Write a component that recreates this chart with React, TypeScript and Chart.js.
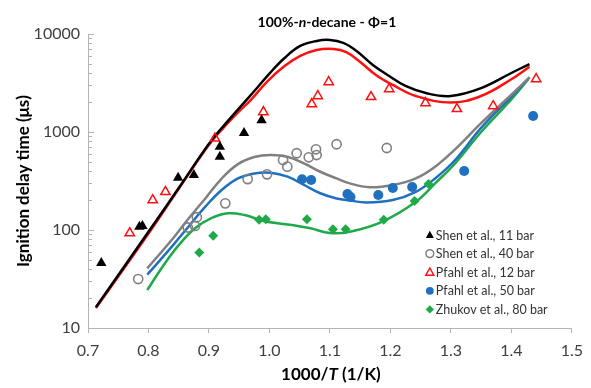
import React, { useEffect, useRef } from 'react';
import { Chart, registerables } from 'chart.js';

Chart.register(...registerables);

const FONT = 'Lato, "Noto Sans", sans-serif';

// ---- experimental data (1000/T, ignition delay in µs) ----
const shen11X = [0.722, 0.785, 0.790, 0.849, 0.875, 0.918, 0.918, 0.958, 0.987];
const shen11Y = [46, 108, 110, 342, 364, 560, 707, 977, 1320];

const shen40X = [0.783, 0.865, 0.877, 0.880, 0.927, 0.964, 0.996, 1.0225, 1.0295, 1.045, 1.065, 1.077, 1.078, 1.111, 1.194];
const shen40Y = [31.6, 106, 110, 135, 187, 331, 370, 518, 443, 607, 552, 666, 582, 750, 687];

const pfahl12X = [0.769, 0.807, 0.828, 0.910, 0.990, 1.070, 1.080, 1.098, 1.168, 1.198, 1.258, 1.310, 1.370, 1.441];
const pfahl12Y = [93, 202, 245, 860, 1600, 1930, 2330, 3240, 2280, 2750, 1980, 1720, 1840, 3480];

const pfahl50X = [1.054, 1.069, 1.129, 1.134, 1.180, 1.204, 1.236, 1.322, 1.436];
const pfahl50Y = [329, 324, 233, 217, 228, 268, 275, 400, 1456];

const zhukovX = [0.884, 0.907, 0.983, 0.994, 1.062, 1.105, 1.126, 1.189, 1.240, 1.263];
const zhukovY = [59, 87.5, 127, 129, 129, 102, 102, 127, 198, 294];

// ---- model curves ----
const model11X = [0.713, 0.8, 0.85, 0.9, 0.925, 0.95, 0.975, 1.0, 1.025, 1.051, 1.078, 1.1, 1.122, 1.144, 1.171, 1.198, 1.225, 1.26, 1.3, 1.35, 1.4, 1.43];
const model11Y = [16.3, 96, 268, 760, 1170, 1750, 2620, 3950, 5690, 7550, 8490, 8690, 8100, 6710, 4830, 3730, 2950, 2480, 2330, 2800, 4000, 4940];

const model12X = [0.713, 0.8, 0.85, 0.9, 0.925, 0.95, 0.969, 0.997, 1.025, 1.051, 1.078, 1.106, 1.127, 1.148, 1.176, 1.204, 1.242, 1.3, 1.35, 1.4, 1.43];
const model12Y = [16.0, 92, 263, 740, 1120, 1630, 2120, 3310, 4710, 5970, 6870, 7040, 6550, 5300, 3820, 3020, 2330, 2000, 2330, 3450, 4640];

const model40X = [0.798, 0.839, 0.866, 0.894, 0.921, 0.948, 0.975, 1.002, 1.0295, 1.057, 1.084, 1.111, 1.133, 1.165, 1.204, 1.242, 1.274, 1.307, 1.35, 1.4, 1.43];
const model40Y = [40.6, 80, 130, 210, 335, 470, 555, 582, 560, 479, 393, 336, 299, 273, 288, 337, 443, 666, 1230, 2400, 3610];

const model50X = [0.798, 0.839, 0.866, 0.894, 0.921, 0.948, 0.975, 1.002, 1.03, 1.057, 1.084, 1.111, 1.133, 1.16, 1.204, 1.242, 1.274, 1.307, 1.35, 1.4, 1.43];
const model50Y = [35, 68, 108, 173, 256, 336, 378, 384, 350, 288, 237, 210, 200, 191, 202, 245, 336, 518, 1100, 2300, 3600];

const model80X = [0.798, 0.823, 0.85, 0.877, 0.904, 0.932, 0.959, 0.986, 1.013, 1.04, 1.068, 1.1, 1.133, 1.187, 1.242, 1.274, 1.307, 1.35, 1.4, 1.428];
const model80Y = [24.4, 42, 70, 104, 132, 148, 142, 126, 117, 112, 104, 93, 96, 122, 194, 299, 479, 1000, 2150, 3450];

const xTicks = [0.7, 0.8, 0.9, 1.0, 1.1, 1.2, 1.3, 1.4, 1.5];
const yMajor = [10, 100, 1000, 10000];

const legendLabels = [
  'Shen et al., 11 bar',
  'Shen et al., 40 bar',
  'Pfahl et al., 12 bar',
  'Pfahl et al., 50 bar',
  'Zhukov et al., 80 bar',
];

const BLACK = '#000000';
const GRAY = '#808080';
const RED = '#ff1010';
const BLUE = '#1f70c0';
const GREEN = '#1faa4a';
const AXIS = '#b4b4b4';

const pts = (xs: number[], ys: number[]) => xs.map((x, i) => ({ x, y: ys[i] }));

function drawMarker(ctx: CanvasRenderingContext2D, kind: number, x: number, y: number, s: number) {
  ctx.save();
  ctx.beginPath();
  if (kind === 0 || kind === 2) {
    ctx.moveTo(x, y - s);
    ctx.lineTo(x + s * 0.95, y + s * 0.7);
    ctx.lineTo(x - s * 0.95, y + s * 0.7);
    ctx.closePath();
  } else if (kind === 1 || kind === 3) {
    ctx.arc(x, y, s * 0.85, 0, Math.PI * 2);
  } else {
    ctx.moveTo(x, y - s);
    ctx.lineTo(x + s, y);
    ctx.lineTo(x, y + s);
    ctx.lineTo(x - s, y);
    ctx.closePath();
  }
  if (kind === 0) { ctx.fillStyle = BLACK; ctx.fill(); }
  if (kind === 1) { ctx.strokeStyle = GRAY; ctx.lineWidth = 1.5; ctx.stroke(); }
  if (kind === 2) { ctx.strokeStyle = RED; ctx.lineWidth = 1.5; ctx.stroke(); }
  if (kind === 3) { ctx.fillStyle = BLUE; ctx.fill(); }
  if (kind === 4) { ctx.fillStyle = GREEN; ctx.fill(); }
  ctx.restore();
}

function drawMixed(ctx: CanvasRenderingContext2D, parts: [string, boolean][], cx: number, cy: number, size: number) {
  const fonts = parts.map(([, it]) => `${it ? 'italic ' : ''}bold ${size}px ${FONT}`);
  let total = 0;
  const widths = parts.map(([t], i) => { ctx.font = fonts[i]; const w = ctx.measureText(t).width; total += w; return w; });
  let x = cx - total / 2;
  ctx.textBaseline = 'middle';
  ctx.textAlign = 'left';
  ctx.fillStyle = '#000';
  parts.forEach(([t], i) => { ctx.font = fonts[i]; ctx.fillText(t, x, cy); x += widths[i]; });
}

const decorPlugin = {
  id: 'decor',
  afterDraw(chart: any) {
    const ctx: CanvasRenderingContext2D = chart.ctx;
    const area = chart.chartArea;
    const ys = chart.scales.y;
    // inside y ticks (major + minor)
    ctx.save();
    ctx.strokeStyle = AXIS;
    ctx.lineWidth = 1;
    for (let d = 10; d <= 10000; d *= 10) {
      for (let m = 1; m <= 9; m++) {
        const v = d * m;
        if (v > 10000) break;
        const py = Math.round(ys.getPixelForValue(v)) + 0.5;
        const len = m === 1 ? 6 : 4;
        ctx.beginPath();
        ctx.moveTo(area.left, py);
        ctx.lineTo(area.left + len, py);
        ctx.stroke();
      }
    }
    ctx.restore();

    ctx.save();
    const cx = (area.left + area.right) / 2;
    drawMixed(ctx, [['100%-', false], ['n', true], ['-decane - Φ=1', false]], cx - 3, 22, 14);
    drawMixed(ctx, [['1000/', false], ['T', true], [' (1/K)', false]], cx + 1, 375, 17);
    ctx.translate(24, (area.top + area.bottom) / 2);
    ctx.rotate(-Math.PI / 2);
    drawMixed(ctx, [['Ignition delay time (μs)', false]], 0, 0, 17);
    ctx.restore();

    // legend
    ctx.save();
    const lx = area.right - 142;
    const ly0 = area.bottom - 93;
    legendLabels.forEach((lab, i) => {
      const y = ly0 + i * 18.6;
      drawMarker(ctx, i, lx, y, i === 1 || i === 3 ? 4.6 : 4.2);
      ctx.font = `12.5px ${FONT}`;
      ctx.fillStyle = '#333';
      ctx.textBaseline = 'middle';
      ctx.textAlign = 'left';
      ctx.fillText(lab, lx + 6, y + 0.5);
    });
    ctx.restore();
  },
};

export default function App() {
  const ref = useRef<HTMLCanvasElement | null>(null);
  useEffect(() => {
    document.body.style.margin = '0';
    const canvas = ref.current!;
    const lineDs = (label: string, xs: number[], ys: number[], color: string) => ({
      type: 'line' as const,
      label,
      data: pts(xs, ys),
      borderColor: color,
      backgroundColor: color,
      borderWidth: 2.5,
      pointRadius: 0,
      tension: 0.4,
      fill: false,
      order: 1,
    });
    const chart = new Chart(canvas, {
      type: 'scatter',
      data: {
        datasets: [
          { label: legendLabels[0], data: pts(shen11X, shen11Y), pointStyle: 'triangle', pointRadius: 6, backgroundColor: BLACK, borderColor: BLACK, borderWidth: 0, order: 0 },
          { label: legendLabels[1], data: pts(shen40X, shen40Y), pointStyle: 'circle', pointRadius: 4.6, backgroundColor: 'rgba(0,0,0,0)', borderColor: GRAY, borderWidth: 1.6, order: 0 },
          { label: legendLabels[2], data: pts(pfahl12X, pfahl12Y), pointStyle: 'triangle', pointRadius: 5.4, backgroundColor: 'rgba(0,0,0,0)', borderColor: RED, borderWidth: 1.5, order: 0 },
          { label: legendLabels[3], data: pts(pfahl50X, pfahl50Y), pointStyle: 'circle', pointRadius: 5, backgroundColor: BLUE, borderColor: BLUE, borderWidth: 0, order: 0 },
          { label: legendLabels[4], data: pts(zhukovX, zhukovY), pointStyle: 'rectRot', pointRadius: 5, backgroundColor: GREEN, borderColor: GREEN, borderWidth: 0, order: 0 },
          lineDs('model 11 bar', model11X, model11Y, BLACK),
          lineDs('model 12 bar', model12X, model12Y, RED),
          lineDs('model 40 bar', model40X, model40Y, GRAY),
          lineDs('model 50 bar', model50X, model50Y, BLUE),
          lineDs('model 80 bar', model80X, model80Y, GREEN),
        ] as any,
      },
      options: {
        animation: false,
        responsive: false,
        layout: { padding: { left: 0, right: 12, top: 34, bottom: 0 } },
        plugins: { legend: { display: false }, tooltip: { enabled: false }, title: { display: false } },
        scales: {
          x: {
            type: 'linear',
            min: 0.7,
            max: 1.5,
            afterFit: (s: any) => { s.height = 60; },
            afterBuildTicks: (s: any) => { s.ticks = xTicks.map((v) => ({ value: v })); },
            ticks: { color: '#404040', font: { family: FONT, size: 16 }, padding: 8, callback: (v: any) => Number(v).toFixed(1), maxRotation: 0 },
            grid: { drawOnChartArea: false, drawTicks: true, tickLength: 5, tickColor: AXIS },
            border: { display: true, color: AXIS, width: 1 },
          },
          y: {
            type: 'logarithmic',
            min: 10,
            max: 10000,
            afterFit: (s: any) => { s.width = 88; },
            afterBuildTicks: (s: any) => { s.ticks = yMajor.map((v) => ({ value: v })); },
            ticks: { color: '#404040', font: { family: FONT, size: 16 }, padding: 8, autoSkip: false, callback: (v: any) => String(v) },
            grid: { drawOnChartArea: false, drawTicks: false },
            border: { display: true, color: AXIS, width: 1 },
          },
        },
      },
      plugins: [decorPlugin],
    });
    return () => chart.destroy();
  }, []);
  return (
    <div style={{ width: 591, height: 388, background: '#fff' }}>
      <canvas ref={ref} width={591} height={388} style={{ display: 'block' }} />
    </div>
  );
}
